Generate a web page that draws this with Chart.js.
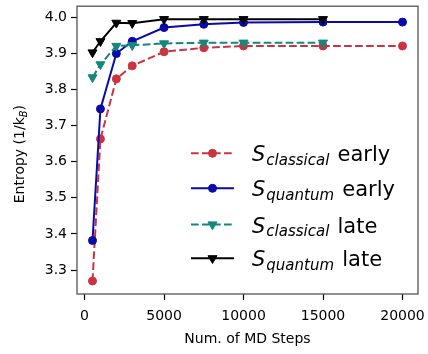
<!DOCTYPE html>
<html>
<head>
<meta charset="utf-8">
<script src="https://cdn.jsdelivr.net/npm/chart.js@4/dist/chart.umd.min.js"></script>
<style>
  html, body { margin: 0; padding: 0; background: #fff; }
  #wrap { width: 428px; height: 354px; }
</style>
</head>
<body>
<div id="wrap"><canvas id="chart" width="428" height="354"></canvas></div>
<script>
// MD steps for each run
const STEPS_EARLY = [500, 1000, 2000, 3000, 5000, 7500, 10000, 15000, 20000];
const STEPS_LATE = [500, 1000, 2000, 3000, 5000, 7500, 10000, 15000];

// entropy values (1/k_B)
const S_CLASSICAL_EARLY = [3.270, 3.663, 3.829, 3.865, 3.904, 3.915, 3.920, 3.920, 3.920];
const S_QUANTUM_EARLY = [3.382, 3.746, 3.899, 3.933, 3.971, 3.980, 3.985, 3.986, 3.986];
const S_CLASSICAL_LATE = [3.833, 3.869, 3.920, 3.922, 3.927, 3.929, 3.929, 3.929];
const S_QUANTUM_LATE = [3.902, 3.933, 3.984, 3.983, 3.994, 3.994, 3.994, 3.994];

const X_TICKS = [0, 5000, 10000, 15000, 20000];
const Y_TICKS = [3.3, 3.4, 3.5, 3.6, 3.7, 3.8, 3.9, 4.0];

const RED = '#cc3340';
const BLUE = '#0a0aaa';
const GREEN = '#15877d';
const BLACK = '#000000';
const DASH = [7.7, 3.3];

function toPoints(xs, ys) {
    return xs.map((x, i) => ({x: x, y: ys[i]}));
}

function makeSet(label, sub, tail, xs, ys, color, dashed, marker, order) {
    return {
        label: label,
        sub: sub,
        tail: tail,
        data: toPoints(xs, ys),
        borderColor: color,
        backgroundColor: color,
        borderWidth: 2,
        borderDash: dashed ? DASH : [],
        pointStyle: marker === 'v' ? 'triangle' : 'circle',
        rotation: marker === 'v' ? 180 : 0,
        pointRadius: marker === 'v' ? 5.2 : 4,
        pointBorderWidth: 1,
        tension: 0,
        order: order
    };
}

const datasets = [
    makeSet('S classical early', 'classical', 'early', STEPS_EARLY, S_CLASSICAL_EARLY, RED, true, 'o', 4),
    makeSet('S quantum early', 'quantum', 'early', STEPS_EARLY, S_QUANTUM_EARLY, BLUE, false, 'o', 3),
    makeSet('S classical late', 'classical', 'late', STEPS_LATE, S_CLASSICAL_LATE, GREEN, true, 'v', 2),
    makeSet('S quantum late', 'quantum', 'late', STEPS_LATE, S_QUANTUM_LATE, BLACK, false, 'v', 1)
];

function drawMarker(ctx, ds, x, y) {
    ctx.save();
    ctx.fillStyle = ds.backgroundColor;
    ctx.strokeStyle = ds.borderColor;
    ctx.lineWidth = 1;
    ctx.setLineDash([]);
    ctx.beginPath();
    if (ds.pointStyle === 'triangle') {
        let rad = Math.PI;
        const r = ds.pointRadius;
        ctx.moveTo(x + Math.sin(rad) * r, y - Math.cos(rad) * r);
        rad += 2 * Math.PI / 3;
        ctx.lineTo(x + Math.sin(rad) * r, y - Math.cos(rad) * r);
        rad += 2 * Math.PI / 3;
        ctx.lineTo(x + Math.sin(rad) * r, y - Math.cos(rad) * r);
        ctx.closePath();
    } else {
        ctx.arc(x, y, ds.pointRadius, 0, Math.PI * 2);
    }
    ctx.fill();
    ctx.stroke();
    ctx.restore();
}

// frame, y title with subscript and the legend inside the axes
const decorations = {
    id: 'decorations',
    afterDraw(chart) {
        const ctx = chart.ctx;
        const a = chart.chartArea;

        ctx.save();
        ctx.strokeStyle = '#555';
        ctx.lineWidth = 1.3;
        ctx.setLineDash([]);
        ctx.strokeRect(a.left, a.top, a.right - a.left, a.bottom - a.top);
        ctx.restore();

        // y axis title
        ctx.save();
        ctx.fillStyle = '#000';
        ctx.textBaseline = 'alphabetic';
        const main = 'Entropy (1/k';
        const fMain = '14px "DejaVu Sans"';
        const fSub = 'italic 10px "DejaVu Sans"';
        ctx.font = fMain;
        const w1 = ctx.measureText(main).width;
        const w3 = ctx.measureText(')').width;
        ctx.font = fSub;
        const w2 = ctx.measureText('B').width;
        const total = w1 + w2 + w3;
        ctx.translate(24, (a.top + a.bottom) / 2 + 4);
        ctx.rotate(-Math.PI / 2);
        let x = -total / 2;
        ctx.font = fMain;
        ctx.fillText(main, x, 0);
        x += w1;
        ctx.font = fSub;
        ctx.fillText('B', x, 3);
        x += w2;
        ctx.font = fMain;
        ctx.fillText(')', x, 0);
        ctx.restore();

        // legend
        const rows = [153.3, 188.3, 224.5, 258.3];
        chart.data.datasets.forEach((ds, i) => {
            const y = rows[i];
            ctx.save();
            ctx.strokeStyle = ds.borderColor;
            ctx.lineWidth = ds.borderWidth;
            ctx.setLineDash(ds.borderDash);
            ctx.beginPath();
            ctx.moveTo(191, y);
            ctx.lineTo(234, y);
            ctx.stroke();
            ctx.restore();
            drawMarker(ctx, ds, 212.5, y);

            ctx.save();
            ctx.fillStyle = '#000';
            ctx.textBaseline = 'alphabetic';
            let tx = 252;
            ctx.font = 'italic 21px "DejaVu Sans"';
            ctx.fillText('S', tx, y + 8);
            tx += ctx.measureText('S').width + 1;
            ctx.font = 'italic 15px "DejaVu Sans"';
            ctx.fillText(ds.sub, tx, y + 11.5);
            tx += ctx.measureText(ds.sub).width + 1.5;
            ctx.font = '21px "DejaVu Sans"';
            ctx.fillText(' ' + ds.tail, tx, y + 8);
            ctx.restore();
        });
    }
};

Chart.defaults.font.family = '"DejaVu Sans"';
Chart.defaults.font.size = 14;
Chart.defaults.color = '#000';

new Chart(document.getElementById('chart'), {
    type: 'line',
    data: {datasets: datasets},
    options: {
        responsive: false,
        animation: false,
        events: [],
        layout: {padding: {top: 5, right: 10, left: 0, bottom: 0}},
        plugins: {
            legend: {display: false},
            tooltip: {enabled: false}
        },
        scales: {
            x: {
                type: 'linear',
                min: -475,
                max: 20975,
                afterBuildTicks: (scale) => { scale.ticks = X_TICKS.map(v => ({value: v})); },
                afterFit: (scale) => {
                    scale.height = 60;
                    scale.paddingLeft = 0;
                    scale.paddingRight = 0;
                },
                border: {display: false},
                grid: {
                    drawOnChartArea: false,
                    drawTicks: true,
                    tickLength: 6,
                    tickColor: '#000',
                    tickWidth: 1.2
                },
                ticks: {
                    padding: 8,
                    maxRotation: 0,
                    autoSkip: false,
                    callback: (v) => String(v)
                },
                title: {
                    display: true,
                    text: 'Num. of MD Steps',
                    padding: {top: 0, bottom: 6}
                }
            },
            y: {
                type: 'linear',
                min: 3.234,
                max: 4.030,
                afterBuildTicks: (scale) => { scale.ticks = Y_TICKS.map(v => ({value: v})); },
                afterFit: (scale) => {
                    scale.width = 77;
                    scale.paddingTop = 0;
                    scale.paddingBottom = 0;
                },
                border: {display: false},
                grid: {
                    drawOnChartArea: false,
                    drawTicks: true,
                    tickLength: 6,
                    tickColor: '#000',
                    tickWidth: 1.2
                },
                ticks: {
                    padding: 4,
                    autoSkip: false,
                    callback: (v) => v.toFixed(1)
                }
            }
        }
    },
    plugins: [decorations]
});
</script>
</body>
</html>
